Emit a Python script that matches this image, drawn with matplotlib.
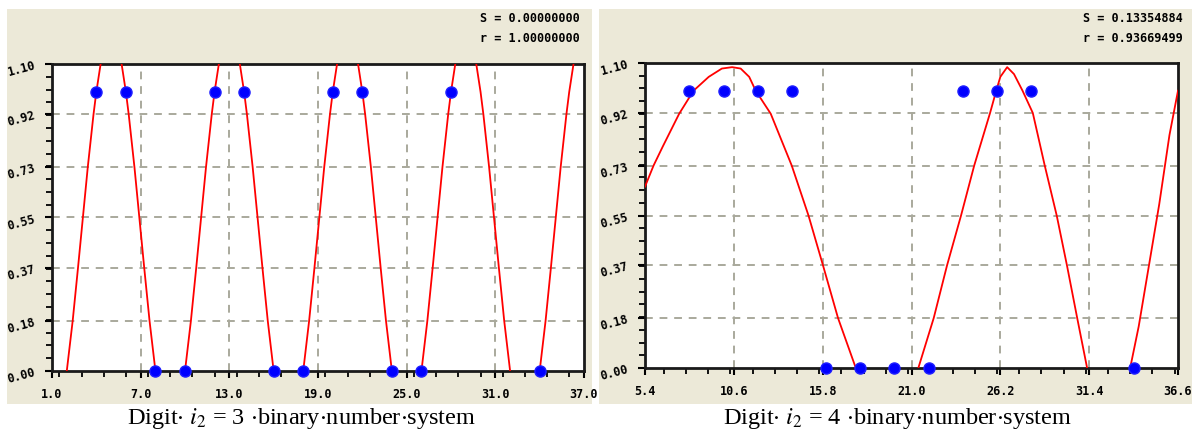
import numpy as np
import matplotlib
matplotlib.use("Agg")
import matplotlib.pyplot as plt
from matplotlib.patches import Rectangle
from matplotlib.ticker import MultipleLocator, FixedLocator

plt.rcParams['mathtext.fontset'] = 'stix'

# ---- data ----
# left panel: digit i2 = 3
left_x = [4, 6, 12, 14, 20, 22, 28, 8, 10, 16, 18, 24, 26, 34]
left_y = [1, 1, 1, 1, 1, 1, 1, 0, 0, 0, 0, 0, 0, 0]
left_peaks = [5, 13, 21, 29, 37]
left_flank_dx = [3.0, 2.6, 2.24, 1.91, 1.58, 1.19, 1.0, 0.71]
left_flank_y = [0.0, 0.18, 0.37, 0.55, 0.73, 0.92, 1.0, 1.1]
left_xticks = [1.0, 7.0, 13.0, 19.0, 25.0, 31.0, 37.0]
left_stats = ["S = 0.00000000", "r = 1.00000000"]

# right panel: digit i2 = 4
right_x = [8, 10, 12, 14, 24, 26, 28, 16, 18, 20, 22, 34]
right_y = [1, 1, 1, 1, 1, 1, 1, 0, 0, 0, 0, 0]
right_seg1_x = [5.4, 5.9, 6.45, 7.4, 8.24, 9.13, 9.9, 10.5, 11.0, 11.5, 11.88, 12.76, 13.99, 14.97, 15.82, 16.7, 17.74]
right_seg1_y = [0.654, 0.73, 0.80, 0.917, 1.0, 1.05, 1.08, 1.085, 1.08, 1.05, 1.0, 0.917, 0.73, 0.55, 0.37, 0.18, 0.0]
right_seg2_x = [21.4, 22.3, 23.08, 23.9, 24.67, 25.6, 25.96, 26.2, 26.6, 27.0, 27.5, 28.1, 28.8, 29.5, 30.1, 30.7, 31.28]
right_seg2_y = [0.0, 0.18, 0.37, 0.55, 0.73, 0.92, 1.0, 1.05, 1.085, 1.06, 1.0, 0.92, 0.73, 0.55, 0.37, 0.18, 0.0]
right_seg3_x = [33.8, 34.3, 34.9, 35.5, 36.1, 36.6]
right_seg3_y = [0.0, 0.15, 0.37, 0.59, 0.84, 1.0]
right_xticks = [5.4, 10.6, 15.8, 21.0, 26.2, 31.4, 36.6]
right_stats = ["S = 0.13354884", "r = 0.93669499"]

yticks = [0.00, 0.18, 0.37, 0.55, 0.73, 0.92, 1.10]

beige = '#ece9d8'
grid_c = '#a9a99c'
mono = 'DejaVu Sans Mono'

W, H = 1192, 436
fig = plt.figure(figsize=(W / 100, H / 100), dpi=100)
fig.patch.set_facecolor('white')

def px(x0, y0, x1, y1):
    return [x0 / W, 1 - y1 / H, (x1 - x0) / W, (y1 - y0) / H]

for (bx0, bx1) in [(7, 592), (599, 1192)]:
    b = px(bx0, 9, bx1, 404)
    fig.patches.append(Rectangle((b[0], b[1]), b[2], b[3], transform=fig.transFigure,
                                 facecolor=beige, edgecolor='none', zorder=-10))


def panel(rect, xlim, xticks, minor, px_, py_, segs, stats, stat_x, caption, cap_x):
    ax = fig.add_axes(px(*rect))
    ax.set_zorder(1)
    ax.set_facecolor('white')
    ax.set_xlim(*xlim)
    ax.set_ylim(0, 1.1)
    ax.xaxis.set_major_locator(FixedLocator(xticks))
    ax.xaxis.set_minor_locator(MultipleLocator(minor))
    ax.yaxis.set_major_locator(FixedLocator(yticks))
    ax.yaxis.set_minor_locator(MultipleLocator(1.1 / 24))
    ax.set_xticklabels(['%.1f' % t for t in xticks], family=mono, weight='bold', fontsize=8.5)
    ax.set_yticklabels(['%.2f' % t for t in yticks], family=mono, weight='bold', fontsize=8.5,
                       rotation=15)
    ax.tick_params(which='major', length=5, width=1.5, color='black', pad=6)
    ax.tick_params(which='minor', length=4, width=1.3, color='black')
    ax.tick_params(axis='x', pad=7)
    for g in xticks[1:-1]:
        ax.axvline(g, color=grid_c, lw=1.4, ls=(0, (4, 3.5)), zorder=1)
    for g in yticks[1:-1]:
        ax.axhline(g, color=grid_c, lw=1.4, ls=(0, (4, 3.5)), zorder=1)
    for sx, sy in segs:
        ax.plot(sx, sy, color='#ff0000', lw=1.3, zorder=3)
    ax.plot(px_, py_, 'o', color='#0000ff', markersize=8, mec='#2020ff', zorder=4, clip_on=False)
    for s in ax.spines.values():
        s.set_linewidth(2)
        s.set_color('#1a1a1a')
    fig.text(stat_x / W, 1 - 19 / H, stats[0], ha='right', va='center',
             family=mono, weight='bold', fontsize=8.5)
    fig.text(stat_x / W, 1 - 39 / H, stats[1], ha='right', va='center',
             family=mono, weight='bold', fontsize=8.5)
    fig.text(cap_x / W, 1 - 418 / H, caption, ha='center', va='center',
             family='Liberation Serif', fontsize=17.5)
    return ax


left_segs = []
for p in left_peaks:
    left_segs.append(([p - d for d in left_flank_dx], left_flank_y))
    left_segs.append(([p + d for d in left_flank_dx], left_flank_y))

panel((52, 64, 584, 371), (1.0, 37.0), left_xticks, 1.5, left_x, left_y, left_segs,
      left_stats, 580, r"Digit$\cdot$ $i_2$ = 3 $\cdot$binary$\cdot$number$\cdot$system", 301)

right_segs = [(right_seg1_x, right_seg1_y), (right_seg2_x, right_seg2_y),
              (right_seg3_x, right_seg3_y)]
panel((645, 63, 1178, 368), (5.4, 36.6), right_xticks, 1.3, right_x, right_y, right_segs,
      right_stats, 1183, r"Digit$\cdot$ $i_2$ = 4 $\cdot$binary$\cdot$number$\cdot$system", 897)

fig.savefig('out.png', dpi=100)
